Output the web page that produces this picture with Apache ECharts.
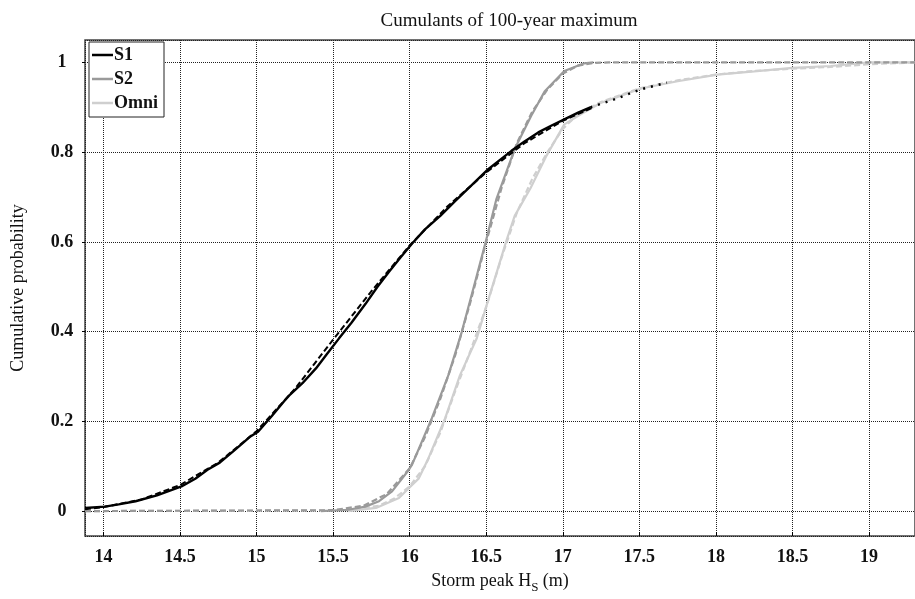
<!DOCTYPE html>
<html>
<head>
<meta charset="utf-8">
<script src="https://cdn.jsdelivr.net/npm/echarts@6/dist/echarts.min.js"></script>
<style>html,body{margin:0;padding:0;background:#fff}#c{width:915px;height:599px}</style>
</head>
<body>
<div id="c"></div>
<script>
// ---- data ----
const titleText = 'Cumulants of 100-year maximum';
const legendNames = ['S1', 'S2', 'Omni'];

const s1X = [13.88, 14.01, 14.1, 14.21, 14.35, 14.51, 14.6, 14.68, 14.76, 14.857, 14.955, 15.01, 15.1, 15.18, 15.214, 15.3, 15.388, 15.46, 15.539, 15.62, 15.712, 15.79, 15.864, 15.94, 16.015, 16.1, 16.2, 16.3, 16.4, 16.513, 16.665, 16.75, 16.84, 16.93, 17.01, 17.1, 17.18];
const s1Y = [0.007, 0.010, 0.015, 0.022, 0.035, 0.055, 0.072, 0.092, 0.108, 0.136, 0.165, 0.177, 0.212, 0.245, 0.258, 0.285, 0.318, 0.35, 0.385, 0.42, 0.462, 0.50, 0.533, 0.565, 0.596, 0.628, 0.658, 0.692, 0.725, 0.762, 0.803, 0.824, 0.844, 0.86, 0.873, 0.888, 0.9];
const s1TailX = [17.18, 17.34, 17.51, 17.68];
const s1TailY = [0.9, 0.918, 0.94, 0.955];
const s1FitX = [13.88, 14, 14.25, 14.5, 14.75, 15, 15.25, 15.5, 15.75, 16, 16.25, 16.5, 16.75, 17, 17.2];
const s1FitY = [0.004, 0.009, 0.026, 0.058, 0.108, 0.178, 0.272, 0.382, 0.49, 0.592, 0.68, 0.755, 0.82, 0.87, 0.9];

const s2X = [15.42, 15.6, 15.71, 15.8, 15.885, 15.99, 16.015, 16.145, 16.253, 16.34, 16.427, 16.496, 16.567, 16.686, 16.794, 16.881, 17.01, 17.14, 17.2];
const s2Y = [0, 0.003, 0.01, 0.022, 0.044, 0.09, 0.103, 0.207, 0.303, 0.399, 0.51, 0.599, 0.696, 0.807, 0.881, 0.935, 0.981, 0.998, 1.0];
const s2FitX = [13.88, 15.5, 15.7, 15.85, 16, 16.1, 16.2, 16.3, 16.4, 16.5, 16.6, 16.7, 16.8, 16.9, 17, 17.1, 17.2, 17.3, 19.3];
const s2FitY = [0, 0.002, 0.012, 0.038, 0.095, 0.165, 0.25, 0.35, 0.47, 0.6, 0.72, 0.82, 0.89, 0.94, 0.975, 0.993, 0.999, 1, 1];

const omniX = [15.6, 15.78, 15.93, 15.994, 16.06, 16.123, 16.232, 16.329, 16.437, 16.502, 16.632, 16.686, 16.79, 16.89, 17.01, 17.12, 17.25, 17.34, 17.51, 17.75, 18.01, 18.25, 18.5, 18.75, 19.0, 19.3];
const omniY = [0, 0.007, 0.029, 0.051, 0.073, 0.118, 0.207, 0.303, 0.384, 0.458, 0.603, 0.658, 0.72, 0.79, 0.862, 0.885, 0.91, 0.921, 0.942, 0.958, 0.973, 0.98, 0.988, 0.992, 1.0, 1.0];
const omniFitX = [13.88, 15.6, 15.8, 15.9, 16, 16.1, 16.2, 16.3, 16.4, 16.5, 16.6, 16.7, 16.8, 16.9, 17, 17.1, 17.25, 17.5, 17.75, 18, 18.25, 18.5, 18.75, 19, 19.3];
const omniFitY = [0, 0.002, 0.012, 0.028, 0.055, 0.1, 0.175, 0.27, 0.36, 0.455, 0.565, 0.665, 0.74, 0.8, 0.852, 0.885, 0.912, 0.942, 0.96, 0.973, 0.981, 0.986, 0.99, 0.996, 1.0];

const xRange = [13.88, 19.3];
const yRange = [-0.0555, 1.05];
const xStep = 0.5;
const yStep = 0.2;
// ---------------------------------------

const zip = (xs, ys) => xs.map((x, i) => [x, ys[i]]);
const FONT = '"Liberation Serif", "DejaVu Serif", serif';
const C1 = '#000000', C2 = '#9a9a9a', C3 = '#cfcfcf';

function line(name, data, color, type, width, z) {
  return {
    name, type: 'line', data, symbol: 'none', smooth: false, z: z,
    lineStyle: { color, width, type },
    itemStyle: { color },
    emphasis: { disabled: true }, animation: false
  };
}

function fmt(step) {
  return v => {
    const r = Math.round(v / step) * step;
    if (Math.abs(r - v) > 1e-6) return '';
    return String(parseFloat(r.toFixed(2)));
  };
}

const chart = echarts.init(document.getElementById('c'), null, { renderer: 'canvas' });
chart.setOption({
  animation: false,
  backgroundColor: '#fff',
  title: {
    text: titleText, left: 504, textAlign: 'center', top: 7,
    textStyle: { fontFamily: FONT, fontSize: 19, fontWeight: 'normal', color: '#111' }
  },
  legend: {
    data: legendNames, orient: 'vertical', left: 89, top: 42,
    icon: 'rect', itemWidth: 21, itemHeight: 2.5, itemGap: 4,
    padding: [3, 6, 4, 3],
    borderColor: '#222', borderWidth: 1, backgroundColor: '#fff',
    textStyle: { fontFamily: FONT, fontSize: 18, fontWeight: 'bold', color: '#111', padding: [0, 0, 0, -4], lineHeight: 20 },
    selectedMode: false
  },
  grid: {
    left: 85, top: 40, right: -5, bottom: 61,
    show: true, borderColor: '#444', borderWidth: 1.5, backgroundColor: 'transparent'
  },
  xAxis: {
    type: 'value', min: xRange[0], max: xRange[1],
    minInterval: xStep, maxInterval: xStep, splitNumber: 11,
    name: 'Storm peak H{sub|S} (m)', nameLocation: 'middle', nameGap: 33,
    nameTextStyle: {
      fontFamily: FONT, fontSize: 18, color: '#111',
      rich: { sub: { fontFamily: FONT, fontSize: 13, color: '#111', padding: [12, 0, 0, 0] } }
    },
    axisLine: { show: false, onZero: false },
    axisTick: { show: true, inside: true, length: 4, lineStyle: { color: '#000' } },
    axisLabel: { fontFamily: FONT, fontSize: 18, fontWeight: 'bold', color: '#111', margin: 12, formatter: fmt(xStep), showMinLabel: false, showMaxLabel: false },
    splitLine: { show: true, lineStyle: { color: '#222', width: 1, type: [1, 1] } }
  },
  yAxis: {
    type: 'value', min: yRange[0], max: yRange[1],
    minInterval: yStep, maxInterval: yStep, splitNumber: 5,
    name: 'Cumulative probability', nameLocation: 'middle', nameGap: 58, nameRotate: 90,
    nameTextStyle: { fontFamily: FONT, fontSize: 18, color: '#111' },
    axisLine: { show: false, onZero: false },
    axisTick: { show: true, inside: false, length: 3, lineStyle: { color: '#000' } },
    axisLabel: { fontFamily: FONT, fontSize: 18, fontWeight: 'bold', color: '#111', margin: 23, align: 'center', formatter: fmt(yStep), showMinLabel: false, showMaxLabel: false },
    splitLine: { show: true, lineStyle: { color: '#222', width: 1, type: [1, 1] } }
  },
  series: [
    line('Omni fit', zip(omniFitX, omniFitY), C3, [6, 3], 2.2, 2),
    line('Omni', zip(omniX, omniY), C3, 'solid', 2.2, 3),
    line('S2 fit', zip(s2FitX, s2FitY), C2, [6, 3], 2.2, 4),
    line('S2', zip(s2X, s2Y), C2, 'solid', 2.2, 5),
    line('S1 fit', zip(s1FitX, s1FitY), C1, [6, 3], 2, 6),
    line('S1', zip(s1X, s1Y), C1, 'solid', 2.4, 7),
    line('S1 tail', zip(s1TailX, s1TailY), C1, [2, 6], 2.4, 7)
  ]
});
</script>
</body>
</html>
